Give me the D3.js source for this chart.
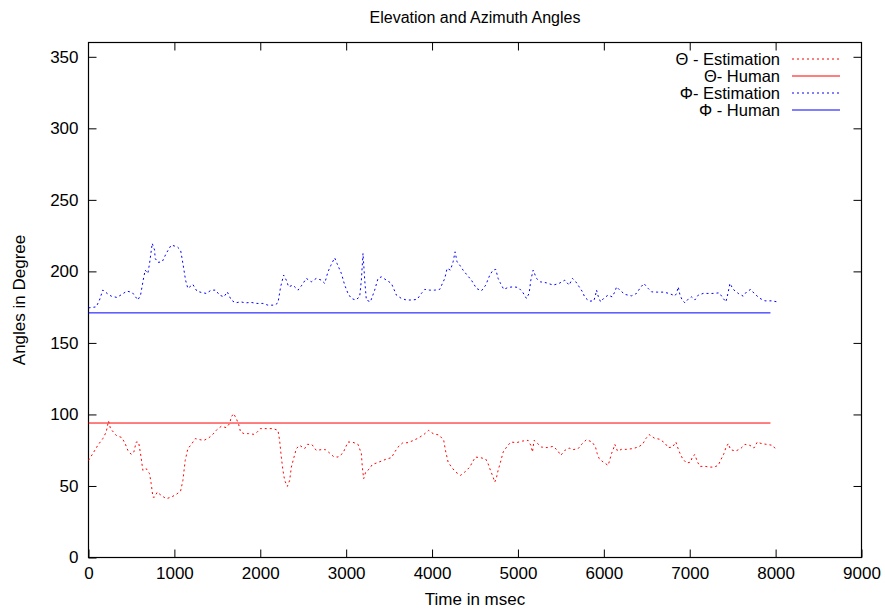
<!DOCTYPE html>
<html>
<head>
<meta charset="utf-8">
<script src="https://cdn.jsdelivr.net/npm/d3@7"></script>
<style>
  body { margin: 0; background: #fff; }
  svg text { font-family: "Liberation Sans", Arial, Helvetica, sans-serif; fill: #000; }
</style>
</head>
<body>
<div id="chart"></div>
<script>
/**
 * DATA
 * */
const phiEstTime = [0,90,128,167,217,264,330,388,446,509,575,606,637,660,691,711,742,769,777,808,858,905,963,1033,1072,1099,1130,1157,1215,1262,1313,1371,1429,1480,1526,1577,1616,1662,1709,1771,1829,1895,1961,2031,2089,2167,2206,2237,2272,2303,2330,2380,2439,2485,2536,2594,2652,2711,2750,2788,2820,2866,2893,2944,2983,3021,3060,3110,3157,3177,3196,3216,3235,3282,3332,3371,3410,3468,3527,3585,3643,3701,3760,3825,3876,3915,3973,4031,4089,4148,4175,4214,4245,4268,4291,4322,4361,4408,4458,4517,4575,4625,4672,4710,4742,4769,4797,4835,4885,4944,5002,5053,5099,5130,5150,5177,5216,5262,5332,5410,5479,5546,5596,5635,5674,5713,5752,5779,5829,5884,5903,5915,5934,5962,6004,6050,6097,6128,6148,6186,6245,6322,6381,6419,6466,6516,6556,6621,6691,6761,6827,6847,6866,6885,6912,6944,6982,7022,7060,7099,7157,7215,7274,7344,7390,7421,7445,7468,7507,7565,7623,7662,7709,7759,7818,7876,7954,8019];
const phiEstDeg = [174.5,175.2,180,187,184.6,182.7,181.8,183.9,186.2,185.3,180,183.4,193.9,200.9,198.6,205.6,219.6,214.9,209,206.3,206.7,212.6,218.4,217.2,214.9,205.6,193.9,188.1,190.9,186.2,185.3,184.6,186.9,186.9,183.4,182.2,185.7,180,178,178.7,178,178.3,177.6,177.6,176.4,176.4,178,189.2,197.4,193.9,189.2,190.4,186.9,190.4,195.1,192.7,195.1,193.9,191.6,199.7,204,209.5,205.6,198.6,190.4,184.6,181.1,180,182.2,193.9,212.6,193.9,180,178.7,186.9,195.1,196.2,193.9,191.6,183.4,181.1,180,180,180.4,184.6,187.4,186.9,186.9,187.4,195.1,202.1,200.9,206.7,213.7,206.7,204.4,200.9,197.4,193.9,188.1,186.4,190.4,197.4,200.9,201.4,195.1,191.6,187.4,188.8,189.2,188.8,185.7,181.1,184.6,193.9,200.9,195.1,192.7,192,190.4,191.6,193.9,190.4,195.1,192.7,189.2,185.7,181.8,179.2,179.4,183.4,186.9,182.7,178.7,181.5,183.4,182.2,185.7,189.2,186.9,183.9,182.9,184.6,188.1,191.6,188.1,185.7,185.5,185.5,184.6,182.9,184.6,189.2,183.9,180,178,180.6,182.2,180,183.4,184.6,184.6,184.6,185,181.1,178.7,184.6,191.6,187.4,184.6,182.7,185.7,187.4,184.1,181.1,179.4,179.4,178.7];

const thetaEstTime = [0,50,108,167,206,233,256,322,388,427,458,497,528,555,583,606,633,672,711,730,750,769,800,847,905,963,1022,1072,1099,1126,1157,1196,1243,1293,1344,1398,1448,1495,1546,1604,1643,1662,1689,1721,1748,1771,1810,1864,1926,1965,2000,2070,2147,2206,2225,2245,2264,2284,2315,2342,2362,2388,2420,2458,2517,2548,2602,2652,2711,2758,2808,2854,2905,2963,3021,3072,3138,3177,3188,3204,3227,3274,3305,3351,3410,3468,3527,3565,3604,3655,3720,3786,3849,3907,3961,4012,4082,4136,4156,4187,4226,4276,4330,4381,4439,4470,4505,4564,4625,4652,4680,4711,4730,4750,4769,4797,4828,4874,4917,4983,5053,5118,5150,5169,5188,5223,5274,5340,5410,5460,5499,5546,5596,5643,5701,5748,5798,5864,5903,5923,5946,5992,6050,6070,6089,6109,6128,6159,6206,6264,6334,6400,6451,6489,6528,6586,6652,6711,6749,6800,6839,6858,6885,6917,6963,7010,7033,7060,7087,7118,7177,7235,7282,7332,7363,7398,7421,7449,7476,7534,7593,7643,7701,7748,7786,7837,7895,7965,8012];
const thetaEstDeg = [67.9,72.6,78.4,83.1,87.7,95.4,90.1,85.4,83.8,79.6,74.9,72.1,73.7,80.7,80.7,72.6,60.9,62.1,58.6,51.6,42.2,42.2,45.7,43.4,41.1,42.2,44.1,46.4,53.9,67.9,76.1,78.9,83.1,82.4,81.9,83.5,86.1,89.4,91.7,90.8,93.6,98.2,100.6,97.1,93.1,87.7,86.6,86.6,86.1,87.7,90.1,90.1,90.1,88.9,81.9,70.2,60.9,53.9,49.7,53.9,63.2,69.1,76.1,78.4,76.1,79.1,78.9,74.9,75.4,75.4,73,70.5,70.2,73,80.7,80.7,79.1,72.6,63.2,55.1,59.7,62.1,65.1,66,67.4,68.8,69.8,73.7,77.2,80,80.3,81.9,83.8,86.1,88.9,86.6,85.6,81.9,74.9,66.7,63.2,59.7,57.4,59.7,63.2,66.7,70.2,69.8,68.8,65.6,60.9,56.2,52.7,55.8,60.9,66.7,73.7,77.7,80.7,80.3,81.4,81.9,78.4,73.7,81.9,80,77.2,76.8,77.7,74.9,71.4,74.9,76.5,75.4,76.1,79.6,82.4,80.7,77.2,72.6,69.1,66.7,64.4,68.4,72.6,75.4,79.1,74.4,75.6,75.6,76.1,77.2,79.1,83.1,85.9,83.5,82.6,80,76.8,77.2,80.7,77.2,73,69.1,66,66.7,70.7,71.9,67.2,63.7,63.7,63.2,63.2,64.4,68.4,72.6,76.8,79.6,75.4,74.4,76.1,79.1,78.4,76.5,80.7,79.6,79.1,78.4,74.9];

const humanTime = [0, 7940];
const thetaHumanDeg = [94, 94];
const phiHumanDeg = [171, 171];

const xTicks = [0,1000,2000,3000,4000,5000,6000,7000,8000,9000];
const yTicks = [0,50,100,150,200,250,300,350];

const legendLabels = ["\u0398 - Estimation", "\u0398- Human", "\u03A6- Estimation", "\u03A6 - Human"];

/**
 * CONSTANTS AND GLOBALS
 * */
const width = 885, height = 611;
const plot = { left: 88.5, right: 861.5, top: 42.5, bottom: 557.5 };
const fontSize = "17px";

const series = [
  { t: thetaEstTime, v: thetaEstDeg, color: "#ff0000", dash: "2,3" },
  { t: humanTime, v: thetaHumanDeg, color: "#ff0000", dash: null },
  { t: phiEstTime, v: phiEstDeg, color: "#0000ff", dash: "2,3" },
  { t: humanTime, v: phiHumanDeg, color: "#0000ff", dash: null },
];

const svg = d3.select("#chart")
  .append("svg")
  .attr("width", width)
  .attr("height", height);

const xScale = d3.scaleLinear()
  .domain([0, 9000])
  .range([plot.left, plot.right]);

const yScale = d3.scaleLinear()
  .domain([0, 360])
  .range([plot.bottom, plot.top]);

// axes: ticks point inward, mirrored on top / right like gnuplot
const xAxis = d3.axisBottom(xScale).tickValues(xTicks).tickFormat(d3.format("d"))
  .tickSizeInner(-8).tickSizeOuter(0).tickPadding(9);
const yAxis = d3.axisLeft(yScale).tickValues(yTicks).tickFormat(d3.format("d"))
  .tickSizeInner(-8).tickSizeOuter(0).tickPadding(10);

svg.append("g")
  .attr("class", "x-axis")
  .attr("transform", `translate(0, ${plot.bottom})`)
  .call(xAxis);

svg.append("g")
  .attr("class", "y-axis")
  .attr("transform", `translate(${plot.left}, 0)`)
  .call(yAxis);

svg.append("g")
  .attr("class", "x-axis-top")
  .attr("transform", `translate(0, ${plot.top})`)
  .call(d3.axisTop(xScale).tickValues(xTicks.slice(1, -1)).tickSizeInner(-8).tickSizeOuter(0).tickFormat(""));

svg.append("g")
  .attr("class", "y-axis-right")
  .attr("transform", `translate(${plot.right}, 0)`)
  .call(d3.axisRight(yScale).tickValues(yTicks.slice(1)).tickSizeInner(-8).tickSizeOuter(0).tickFormat(""));

svg.selectAll(".domain").remove();
svg.selectAll(".tick line").attr("stroke", "#000").attr("stroke-width", 1);
svg.selectAll(".tick text")
  .style("font-size", fontSize)
  .style("font-family", '"Liberation Sans", Arial, Helvetica, sans-serif')
  .attr("fill", "#000");

svg.append("rect")
  .attr("x", plot.left)
  .attr("y", plot.top)
  .attr("width", plot.right - plot.left)
  .attr("height", plot.bottom - plot.top)
  .attr("fill", "none")
  .attr("stroke", "#000")
  .attr("stroke-width", 1.2);

// lines
const lineFunc = d3.line()
  .x(d => xScale(d[0]))
  .y(d => yScale(d[1]));

svg.selectAll("path.trend")
  .data(series)
  .join("path")
  .attr("class", "trend")
  .attr("fill", "none")
  .style("stroke", d => d.color)
  .attr("stroke-width", 1)
  .attr("stroke-dasharray", d => d.dash)
  .attr("d", d => lineFunc(d.t.map((t, i) => [t, d.v[i]])));

// legend
const legendY = d3.scaleLinear().domain([0, 1]).range([59, 76]);
const legend = svg.selectAll("g.legend")
  .data(series)
  .join("g")
  .attr("class", "legend")
  .attr("transform", (d, i) => `translate(0, ${legendY(i)})`);

legend.append("text")
  .attr("x", 780)
  .attr("y", 6)
  .attr("text-anchor", "end")
  .style("font-size", "16.5px")
  .text((d, i) => legendLabels[i]);

legend.append("line")
  .attr("x1", 792)
  .attr("x2", 840)
  .attr("y1", 0)
  .attr("y2", 0)
  .style("stroke", d => d.color)
  .attr("stroke-width", 1.2)
  .attr("stroke-dasharray", d => d.dash);

// titles
svg.append("text")
  .attr("x", (plot.left + plot.right) / 2)
  .attr("y", 23)
  .attr("text-anchor", "middle")
  .style("font-size", "16px")
  .text("Elevation and Azimuth Angles");

svg.append("text")
  .attr("x", (plot.left + plot.right) / 2)
  .attr("y", 605)
  .attr("text-anchor", "middle")
  .style("font-size", fontSize)
  .text("Time in msec");

svg.append("text")
  .attr("transform", `translate(25, ${(plot.top + plot.bottom) / 2}) rotate(-90)`)
  .attr("text-anchor", "middle")
  .style("font-size", fontSize)
  .text("Angles in Degree");
</script>
</body>
</html>
